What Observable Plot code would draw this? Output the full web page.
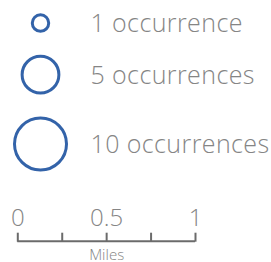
<!DOCTYPE html>
<html>
<head>
<meta charset="utf-8">
<script src="https://cdn.jsdelivr.net/npm/d3@7"></script>
<script src="https://cdn.jsdelivr.net/npm/@observablehq/plot@0.6"></script>
<style>
  html, body { margin: 0; padding: 0; background: #fff; }
  #chart svg { display: block; }
  .size-legend text { letter-spacing: 0.4px; }
</style>
</head>
<body>
<div id="chart"></div>
<script>
// ---- data ----
const counts = [1, 5, 10];
const labels = ["1 occurrence", "5 occurrences", "10 occurrences"];
const scaleTicks = [0, 0.25, 0.5, 0.75, 1];
const scaleLabels = ["0", "", "0.5", "", "1"];
const scaleUnit = "Miles";

// ---- style ----
const FONT = "'Open Sans', 'Helvetica Neue', Roboto, 'Liberation Sans', sans-serif";
const BLUE = "#3363a9";
const GRAY = "#858585";
const AXIS = "#6b6b6b";
const RMAX = 26, GAP = 25, TOP = 14.3;

const rows = counts.map((c, i) => ({count: c, label: labels[i]}));
// stack circles vertically with a constant gap, using the same sqrt radius scale
const rOf = d3.scaleSqrt().domain([0, 10]).range([0, RMAX]);
let yCursor = TOP;
for (const d of rows) { const r = rOf(d.count); d.cy = yCursor + r; yCursor = d.cy + r + GAP; }

const legend = Plot.plot({
  className: "size-legend",
  width: 271, height: 180,
  margin: 0,
  x: {type: "identity", axis: null},
  y: {type: "identity", axis: null},
  r: {type: "sqrt", domain: [0, 10], range: [0, RMAX]},
  style: {fontFamily: FONT, background: "white"},
  marks: [
    Plot.dot(rows, {y: "cy", r: "count", frameAnchor: "left", dx: 40, stroke: BLUE, strokeWidth: 3, fill: "none"}),
    Plot.text(rows, {y: "cy", text: "label", frameAnchor: "left", dx: 90, dy: 1, textAnchor: "start",
      fill: GRAY, fontSize: 25, fontWeight: 300})
  ]
});

const bar = Plot.plot({
  width: 271, height: 82,
  marginLeft: 17.3, marginRight: 76, marginTop: 60.7, marginBottom: 0,
  x: {domain: [0, 1]},
  y: {domain: [0, 1], axis: null},
  style: {fontFamily: FONT, background: "white"},
  marks: [
    Plot.axisX({anchor: "top", ticks: scaleTicks, tickFormat: (d, i) => scaleLabels[i],
      tickSize: 9, tickPadding: 6, stroke: AXIS, strokeWidth: 2, strokeOpacity: 1,
      color: GRAY, fontSize: 24, fontWeight: 300, label: null}),
    Plot.ruleY([1], {x1: 0, x2: 1, stroke: AXIS, strokeWidth: 2}),
    Plot.text([0.5], {x: d => d, text: () => scaleUnit, frameAnchor: "bottom", dy: -3,
      fill: GRAY, fontSize: 15, fontWeight: 300})
  ]
});

const host = document.getElementById("chart");
host.append(legend, bar);
</script>
</body>
</html>
